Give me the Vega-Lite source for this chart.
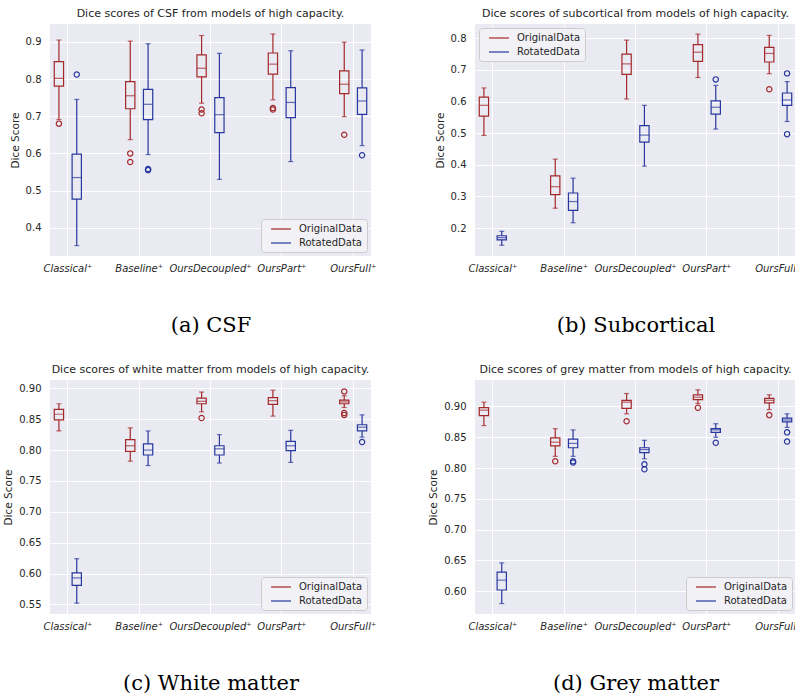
{
  "$schema": "https://vega.github.io/schema/vega-lite/v6.json",
  "padding": {"left": 3, "top": 8, "right": 0, "bottom": 0},
  "background": "white",
  "datasets": {
    "boxes": [
      {"tissue": "CSF", "model": "Classical⁺", "series": "OriginalData", "lower": 0.691, "q1": 0.781, "median": 0.802, "q3": 0.847, "upper": 0.905},
      {"tissue": "CSF", "model": "Classical⁺", "series": "RotatedData", "lower": 0.352, "q1": 0.477, "median": 0.535, "q3": 0.598, "upper": 0.745},
      {"tissue": "CSF", "model": "Baseline⁺", "series": "OriginalData", "lower": 0.637, "q1": 0.720, "median": 0.755, "q3": 0.793, "upper": 0.902},
      {"tissue": "CSF", "model": "Baseline⁺", "series": "RotatedData", "lower": 0.597, "q1": 0.691, "median": 0.732, "q3": 0.772, "upper": 0.895},
      {"tissue": "CSF", "model": "OursDecoupled⁺", "series": "OriginalData", "lower": 0.735, "q1": 0.806, "median": 0.829, "q3": 0.865, "upper": 0.917},
      {"tissue": "CSF", "model": "OursDecoupled⁺", "series": "RotatedData", "lower": 0.530, "q1": 0.656, "median": 0.704, "q3": 0.750, "upper": 0.869},
      {"tissue": "CSF", "model": "OursPart⁺", "series": "OriginalData", "lower": 0.744, "q1": 0.813, "median": 0.840, "q3": 0.870, "upper": 0.921},
      {"tissue": "CSF", "model": "OursPart⁺", "series": "RotatedData", "lower": 0.578, "q1": 0.696, "median": 0.737, "q3": 0.777, "upper": 0.876},
      {"tissue": "CSF", "model": "OursFull⁺", "series": "OriginalData", "lower": 0.699, "q1": 0.761, "median": 0.786, "q3": 0.822, "upper": 0.899},
      {"tissue": "CSF", "model": "OursFull⁺", "series": "RotatedData", "lower": 0.621, "q1": 0.705, "median": 0.741, "q3": 0.776, "upper": 0.878},

      {"tissue": "Subcortical", "model": "Classical⁺", "series": "OriginalData", "lower": 0.493, "q1": 0.554, "median": 0.588, "q3": 0.614, "upper": 0.643},
      {"tissue": "Subcortical", "model": "Classical⁺", "series": "RotatedData", "lower": 0.146, "q1": 0.163, "median": 0.170, "q3": 0.176, "upper": 0.190},
      {"tissue": "Subcortical", "model": "Baseline⁺", "series": "OriginalData", "lower": 0.263, "q1": 0.306, "median": 0.331, "q3": 0.365, "upper": 0.418},
      {"tissue": "Subcortical", "model": "Baseline⁺", "series": "RotatedData", "lower": 0.217, "q1": 0.256, "median": 0.284, "q3": 0.311, "upper": 0.358},
      {"tissue": "Subcortical", "model": "OursDecoupled⁺", "series": "OriginalData", "lower": 0.608, "q1": 0.686, "median": 0.719, "q3": 0.750, "upper": 0.794},
      {"tissue": "Subcortical", "model": "OursDecoupled⁺", "series": "RotatedData", "lower": 0.396, "q1": 0.472, "median": 0.494, "q3": 0.524, "upper": 0.588},
      {"tissue": "Subcortical", "model": "OursPart⁺", "series": "OriginalData", "lower": 0.676, "q1": 0.727, "median": 0.756, "q3": 0.780, "upper": 0.813},
      {"tissue": "Subcortical", "model": "OursPart⁺", "series": "RotatedData", "lower": 0.513, "q1": 0.560, "median": 0.582, "q3": 0.602, "upper": 0.651},
      {"tissue": "Subcortical", "model": "OursFull⁺", "series": "OriginalData", "lower": 0.688, "q1": 0.725, "median": 0.752, "q3": 0.771, "upper": 0.809},
      {"tissue": "Subcortical", "model": "OursFull⁺", "series": "RotatedData", "lower": 0.537, "q1": 0.588, "median": 0.605, "q3": 0.627, "upper": 0.663},

      {"tissue": "White matter", "model": "Classical⁺", "series": "OriginalData", "lower": 0.831, "q1": 0.849, "median": 0.858, "q3": 0.866, "upper": 0.875},
      {"tissue": "White matter", "model": "Classical⁺", "series": "RotatedData", "lower": 0.552, "q1": 0.581, "median": 0.593, "q3": 0.601, "upper": 0.624},
      {"tissue": "White matter", "model": "Baseline⁺", "series": "OriginalData", "lower": 0.782, "q1": 0.798, "median": 0.807, "q3": 0.817, "upper": 0.836},
      {"tissue": "White matter", "model": "Baseline⁺", "series": "RotatedData", "lower": 0.775, "q1": 0.792, "median": 0.800, "q3": 0.810, "upper": 0.831},
      {"tissue": "White matter", "model": "OursDecoupled⁺", "series": "OriginalData", "lower": 0.862, "q1": 0.875, "median": 0.879, "q3": 0.884, "upper": 0.894},
      {"tissue": "White matter", "model": "OursDecoupled⁺", "series": "RotatedData", "lower": 0.779, "q1": 0.792, "median": 0.802, "q3": 0.807, "upper": 0.825},
      {"tissue": "White matter", "model": "OursPart⁺", "series": "OriginalData", "lower": 0.855, "q1": 0.874, "median": 0.880, "q3": 0.885, "upper": 0.897},
      {"tissue": "White matter", "model": "OursPart⁺", "series": "RotatedData", "lower": 0.780, "q1": 0.799, "median": 0.807, "q3": 0.814, "upper": 0.832},
      {"tissue": "White matter", "model": "OursFull⁺", "series": "OriginalData", "lower": 0.869, "q1": 0.875, "median": 0.878, "q3": 0.881, "upper": 0.888},
      {"tissue": "White matter", "model": "OursFull⁺", "series": "RotatedData", "lower": 0.821, "q1": 0.831, "median": 0.837, "q3": 0.841, "upper": 0.857},

      {"tissue": "Grey matter", "model": "Classical⁺", "series": "OriginalData", "lower": 0.869, "q1": 0.885, "median": 0.894, "q3": 0.898, "upper": 0.907},
      {"tissue": "Grey matter", "model": "Classical⁺", "series": "RotatedData", "lower": 0.580, "q1": 0.602, "median": 0.618, "q3": 0.631, "upper": 0.646},
      {"tissue": "Grey matter", "model": "Baseline⁺", "series": "OriginalData", "lower": 0.819, "q1": 0.836, "median": 0.842, "q3": 0.849, "upper": 0.864},
      {"tissue": "Grey matter", "model": "Baseline⁺", "series": "RotatedData", "lower": 0.819, "q1": 0.833, "median": 0.840, "q3": 0.847, "upper": 0.862},
      {"tissue": "Grey matter", "model": "OursDecoupled⁺", "series": "OriginalData", "lower": 0.888, "q1": 0.897, "median": 0.907, "q3": 0.910, "upper": 0.921},
      {"tissue": "Grey matter", "model": "OursDecoupled⁺", "series": "RotatedData", "lower": 0.815, "q1": 0.825, "median": 0.830, "q3": 0.833, "upper": 0.845},
      {"tissue": "Grey matter", "model": "OursPart⁺", "series": "OriginalData", "lower": 0.905, "q1": 0.911, "median": 0.915, "q3": 0.919, "upper": 0.927},
      {"tissue": "Grey matter", "model": "OursPart⁺", "series": "RotatedData", "lower": 0.850, "q1": 0.858, "median": 0.862, "q3": 0.864, "upper": 0.872},
      {"tissue": "Grey matter", "model": "OursFull⁺", "series": "OriginalData", "lower": 0.895, "q1": 0.906, "median": 0.910, "q3": 0.913, "upper": 0.919},
      {"tissue": "Grey matter", "model": "OursFull⁺", "series": "RotatedData", "lower": 0.866, "q1": 0.875, "median": 0.878, "q3": 0.881, "upper": 0.888}
    ],
    "outliers": [
      {"tissue": "CSF", "model": "Classical⁺", "series": "OriginalData", "value": 0.680},
      {"tissue": "CSF", "model": "Classical⁺", "series": "RotatedData", "value": 0.812},
      {"tissue": "CSF", "model": "Baseline⁺", "series": "OriginalData", "value": 0.600},
      {"tissue": "CSF", "model": "Baseline⁺", "series": "OriginalData", "value": 0.577},
      {"tissue": "CSF", "model": "Baseline⁺", "series": "RotatedData", "value": 0.555},
      {"tissue": "CSF", "model": "Baseline⁺", "series": "RotatedData", "value": 0.558},
      {"tissue": "CSF", "model": "OursDecoupled⁺", "series": "OriginalData", "value": 0.718},
      {"tissue": "CSF", "model": "OursDecoupled⁺", "series": "OriginalData", "value": 0.708},
      {"tissue": "CSF", "model": "OursPart⁺", "series": "OriginalData", "value": 0.722},
      {"tissue": "CSF", "model": "OursPart⁺", "series": "OriginalData", "value": 0.718},
      {"tissue": "CSF", "model": "OursFull⁺", "series": "OriginalData", "value": 0.650},
      {"tissue": "CSF", "model": "OursFull⁺", "series": "RotatedData", "value": 0.595},
      {"tissue": "Subcortical", "model": "OursPart⁺", "series": "RotatedData", "value": 0.670},
      {"tissue": "Subcortical", "model": "OursFull⁺", "series": "OriginalData", "value": 0.639},
      {"tissue": "Subcortical", "model": "OursFull⁺", "series": "RotatedData", "value": 0.689},
      {"tissue": "Subcortical", "model": "OursFull⁺", "series": "RotatedData", "value": 0.497},
      {"tissue": "White matter", "model": "OursDecoupled⁺", "series": "OriginalData", "value": 0.852},
      {"tissue": "White matter", "model": "OursFull⁺", "series": "OriginalData", "value": 0.895},
      {"tissue": "White matter", "model": "OursFull⁺", "series": "OriginalData", "value": 0.860},
      {"tissue": "White matter", "model": "OursFull⁺", "series": "OriginalData", "value": 0.857},
      {"tissue": "White matter", "model": "OursFull⁺", "series": "RotatedData", "value": 0.813},
      {"tissue": "Grey matter", "model": "Baseline⁺", "series": "OriginalData", "value": 0.811},
      {"tissue": "Grey matter", "model": "Baseline⁺", "series": "RotatedData", "value": 0.811},
      {"tissue": "Grey matter", "model": "Baseline⁺", "series": "RotatedData", "value": 0.809},
      {"tissue": "Grey matter", "model": "OursDecoupled⁺", "series": "OriginalData", "value": 0.876},
      {"tissue": "Grey matter", "model": "OursDecoupled⁺", "series": "RotatedData", "value": 0.806},
      {"tissue": "Grey matter", "model": "OursDecoupled⁺", "series": "RotatedData", "value": 0.798},
      {"tissue": "Grey matter", "model": "OursPart⁺", "series": "OriginalData", "value": 0.898},
      {"tissue": "Grey matter", "model": "OursPart⁺", "series": "RotatedData", "value": 0.841},
      {"tissue": "Grey matter", "model": "OursFull⁺", "series": "OriginalData", "value": 0.886},
      {"tissue": "Grey matter", "model": "OursFull⁺", "series": "RotatedData", "value": 0.858},
      {"tissue": "Grey matter", "model": "OursFull⁺", "series": "RotatedData", "value": 0.843}
    ]
  },
  "columns": 2,
  "spacing": {"row": 29, "column": 52},
  "resolve": {"scale": {"x": "independent", "y": "independent", "xOffset": "independent", "color": "shared"}, "legend": {"color": "independent"}},
  "concat": [
    {
      "width": 321, "height": 232,
      "title": "Dice scores of CSF from models of high capacity.",
      "encoding": {
        "x": {"field": "model", "type": "nominal", "scale": {"domain": ["Classical⁺", "Baseline⁺", "OursDecoupled⁺", "OursPart⁺", "OursFull⁺"], "paddingInner": 0.5, "paddingOuter": 0}, "axis": {"title": "(a) CSF"}},
        "xOffset": {"field": "series", "type": "nominal", "scale": {"domain": ["OriginalData", "RotatedData"], "paddingInner": 0.48, "paddingOuter": 0.24}},
        "color": {"field": "series", "type": "nominal", "scale": {"domain": ["OriginalData", "RotatedData"], "range": ["#A3282A", "#28379E"]}, "legend": {"title": null, "orient": "bottom-right"}}
      },
      "layer": [
        {
          "data": {"name": "boxes"},
          "transform": [{"filter": "datum.tissue === 'CSF'"}],
          "layer": [
            {"mark": {"type": "rule"}, "encoding": {"y": {"field": "lower", "type": "quantitative", "title": "Dice Score", "scale": {"domain": [0.324, 0.948], "nice": false, "zero": false}, "axis": {"values": [0.4, 0.5, 0.6, 0.7, 0.8, 0.9], "format": ".1f", "labelOverlap": false}}, "y2": {"field": "q1"}}},
            {"mark": {"type": "rule"}, "encoding": {"y": {"field": "q3", "type": "quantitative", "title": "Dice Score", "axis": {"values": [0.4, 0.5, 0.6, 0.7, 0.8, 0.9], "format": ".1f", "labelOverlap": false}}, "y2": {"field": "upper"}}},
            {"mark": {"type": "bar", "filled": false}, "encoding": {"y": {"field": "q1", "type": "quantitative", "title": "Dice Score", "axis": {"values": [0.4, 0.5, 0.6, 0.7, 0.8, 0.9], "format": ".1f", "labelOverlap": false}}, "y2": {"field": "q3"}}},
            {"mark": {"type": "tick", "size": 9.5}, "encoding": {"y": {"field": "median", "type": "quantitative", "title": "Dice Score", "axis": {"values": [0.4, 0.5, 0.6, 0.7, 0.8, 0.9], "format": ".1f", "labelOverlap": false}}}},
            {"mark": {"type": "tick", "size": 5}, "encoding": {"y": {"field": "lower", "type": "quantitative", "title": "Dice Score", "axis": {"values": [0.4, 0.5, 0.6, 0.7, 0.8, 0.9], "format": ".1f", "labelOverlap": false}}}},
            {"mark": {"type": "tick", "size": 5}, "encoding": {"y": {"field": "upper", "type": "quantitative", "title": "Dice Score", "axis": {"values": [0.4, 0.5, 0.6, 0.7, 0.8, 0.9], "format": ".1f", "labelOverlap": false}}}}
          ]
        },
        {
          "data": {"name": "outliers"},
          "transform": [{"filter": "datum.tissue === 'CSF'"}],
          "mark": {"type": "point", "filled": false, "size": 28},
          "encoding": {"y": {"field": "value", "type": "quantitative", "title": "Dice Score", "axis": {"values": [0.4, 0.5, 0.6, 0.7, 0.8, 0.9], "format": ".1f", "labelOverlap": false}}}
        }
      ]
    },
    {
      "width": 321, "height": 232,
      "title": "Dice scores of subcortical from models of high capacity.",
      "encoding": {
        "x": {"field": "model", "type": "nominal", "scale": {"domain": ["Classical⁺", "Baseline⁺", "OursDecoupled⁺", "OursPart⁺", "OursFull⁺"], "paddingInner": 0.5, "paddingOuter": 0}, "axis": {"title": "(b) Subcortical"}},
        "xOffset": {"field": "series", "type": "nominal", "scale": {"domain": ["OriginalData", "RotatedData"], "paddingInner": 0.48, "paddingOuter": 0.24}},
        "color": {"field": "series", "type": "nominal", "scale": {"domain": ["OriginalData", "RotatedData"], "range": ["#A3282A", "#28379E"]}, "legend": {"title": null, "orient": "top-left"}}
      },
      "layer": [
        {
          "data": {"name": "boxes"},
          "transform": [{"filter": "datum.tissue === 'Subcortical'"}],
          "layer": [
            {"mark": {"type": "rule"}, "encoding": {"y": {"field": "lower", "type": "quantitative", "title": "Dice Score", "scale": {"domain": [0.112, 0.845], "nice": false, "zero": false}, "axis": {"values": [0.2, 0.3, 0.4, 0.5, 0.6, 0.7, 0.8], "format": ".1f", "labelOverlap": false}}, "y2": {"field": "q1"}}},
            {"mark": {"type": "rule"}, "encoding": {"y": {"field": "q3", "type": "quantitative", "title": "Dice Score", "axis": {"values": [0.2, 0.3, 0.4, 0.5, 0.6, 0.7, 0.8], "format": ".1f", "labelOverlap": false}}, "y2": {"field": "upper"}}},
            {"mark": {"type": "bar", "filled": false}, "encoding": {"y": {"field": "q1", "type": "quantitative", "title": "Dice Score", "axis": {"values": [0.2, 0.3, 0.4, 0.5, 0.6, 0.7, 0.8], "format": ".1f", "labelOverlap": false}}, "y2": {"field": "q3"}}},
            {"mark": {"type": "tick", "size": 9.5}, "encoding": {"y": {"field": "median", "type": "quantitative", "title": "Dice Score", "axis": {"values": [0.2, 0.3, 0.4, 0.5, 0.6, 0.7, 0.8], "format": ".1f", "labelOverlap": false}}}},
            {"mark": {"type": "tick", "size": 5}, "encoding": {"y": {"field": "lower", "type": "quantitative", "title": "Dice Score", "axis": {"values": [0.2, 0.3, 0.4, 0.5, 0.6, 0.7, 0.8], "format": ".1f", "labelOverlap": false}}}},
            {"mark": {"type": "tick", "size": 5}, "encoding": {"y": {"field": "upper", "type": "quantitative", "title": "Dice Score", "axis": {"values": [0.2, 0.3, 0.4, 0.5, 0.6, 0.7, 0.8], "format": ".1f", "labelOverlap": false}}}}
          ]
        },
        {
          "data": {"name": "outliers"},
          "transform": [{"filter": "datum.tissue === 'Subcortical'"}],
          "mark": {"type": "point", "filled": false, "size": 28},
          "encoding": {"y": {"field": "value", "type": "quantitative", "title": "Dice Score", "axis": {"values": [0.2, 0.3, 0.4, 0.5, 0.6, 0.7, 0.8], "format": ".1f", "labelOverlap": false}}}
        }
      ]
    },
    {
      "width": 321, "height": 234,
      "title": "Dice scores of white matter from models of high capacity.",
      "encoding": {
        "x": {"field": "model", "type": "nominal", "scale": {"domain": ["Classical⁺", "Baseline⁺", "OursDecoupled⁺", "OursPart⁺", "OursFull⁺"], "paddingInner": 0.5, "paddingOuter": 0}, "axis": {"title": "(c) White matter"}},
        "xOffset": {"field": "series", "type": "nominal", "scale": {"domain": ["OriginalData", "RotatedData"], "paddingInner": 0.48, "paddingOuter": 0.24}},
        "color": {"field": "series", "type": "nominal", "scale": {"domain": ["OriginalData", "RotatedData"], "range": ["#A3282A", "#28379E"]}, "legend": {"title": null, "orient": "bottom-right"}}
      },
      "layer": [
        {
          "data": {"name": "boxes"},
          "transform": [{"filter": "datum.tissue === 'White matter'"}],
          "layer": [
            {"mark": {"type": "rule"}, "encoding": {"y": {"field": "lower", "type": "quantitative", "title": "Dice Score", "scale": {"domain": [0.5345, 0.9135], "nice": false, "zero": false}, "axis": {"values": [0.55, 0.6, 0.65, 0.7, 0.75, 0.8, 0.85, 0.9], "format": ".2f", "labelOverlap": false}}, "y2": {"field": "q1"}}},
            {"mark": {"type": "rule"}, "encoding": {"y": {"field": "q3", "type": "quantitative", "title": "Dice Score", "axis": {"values": [0.55, 0.6, 0.65, 0.7, 0.75, 0.8, 0.85, 0.9], "format": ".2f", "labelOverlap": false}}, "y2": {"field": "upper"}}},
            {"mark": {"type": "bar", "filled": false}, "encoding": {"y": {"field": "q1", "type": "quantitative", "title": "Dice Score", "axis": {"values": [0.55, 0.6, 0.65, 0.7, 0.75, 0.8, 0.85, 0.9], "format": ".2f", "labelOverlap": false}}, "y2": {"field": "q3"}}},
            {"mark": {"type": "tick", "size": 9.5}, "encoding": {"y": {"field": "median", "type": "quantitative", "title": "Dice Score", "axis": {"values": [0.55, 0.6, 0.65, 0.7, 0.75, 0.8, 0.85, 0.9], "format": ".2f", "labelOverlap": false}}}},
            {"mark": {"type": "tick", "size": 5}, "encoding": {"y": {"field": "lower", "type": "quantitative", "title": "Dice Score", "axis": {"values": [0.55, 0.6, 0.65, 0.7, 0.75, 0.8, 0.85, 0.9], "format": ".2f", "labelOverlap": false}}}},
            {"mark": {"type": "tick", "size": 5}, "encoding": {"y": {"field": "upper", "type": "quantitative", "title": "Dice Score", "axis": {"values": [0.55, 0.6, 0.65, 0.7, 0.75, 0.8, 0.85, 0.9], "format": ".2f", "labelOverlap": false}}}}
          ]
        },
        {
          "data": {"name": "outliers"},
          "transform": [{"filter": "datum.tissue === 'White matter'"}],
          "mark": {"type": "point", "filled": false, "size": 28},
          "encoding": {"y": {"field": "value", "type": "quantitative", "title": "Dice Score", "axis": {"values": [0.55, 0.6, 0.65, 0.7, 0.75, 0.8, 0.85, 0.9], "format": ".2f", "labelOverlap": false}}}
        }
      ]
    },
    {
      "width": 321, "height": 234,
      "title": "Dice scores of grey matter from models of high capacity.",
      "encoding": {
        "x": {"field": "model", "type": "nominal", "scale": {"domain": ["Classical⁺", "Baseline⁺", "OursDecoupled⁺", "OursPart⁺", "OursFull⁺"], "paddingInner": 0.5, "paddingOuter": 0}, "axis": {"title": "(d) Grey matter"}},
        "xOffset": {"field": "series", "type": "nominal", "scale": {"domain": ["OriginalData", "RotatedData"], "paddingInner": 0.48, "paddingOuter": 0.24}},
        "color": {"field": "series", "type": "nominal", "scale": {"domain": ["OriginalData", "RotatedData"], "range": ["#A3282A", "#28379E"]}, "legend": {"title": null, "orient": "bottom-right"}}
      },
      "layer": [
        {
          "data": {"name": "boxes"},
          "transform": [{"filter": "datum.tissue === 'Grey matter'"}],
          "layer": [
            {"mark": {"type": "rule"}, "encoding": {"y": {"field": "lower", "type": "quantitative", "title": "Dice Score", "scale": {"domain": [0.563, 0.943], "nice": false, "zero": false}, "axis": {"values": [0.6, 0.65, 0.7, 0.75, 0.8, 0.85, 0.9], "format": ".2f", "labelOverlap": false}}, "y2": {"field": "q1"}}},
            {"mark": {"type": "rule"}, "encoding": {"y": {"field": "q3", "type": "quantitative", "title": "Dice Score", "axis": {"values": [0.6, 0.65, 0.7, 0.75, 0.8, 0.85, 0.9], "format": ".2f", "labelOverlap": false}}, "y2": {"field": "upper"}}},
            {"mark": {"type": "bar", "filled": false}, "encoding": {"y": {"field": "q1", "type": "quantitative", "title": "Dice Score", "axis": {"values": [0.6, 0.65, 0.7, 0.75, 0.8, 0.85, 0.9], "format": ".2f", "labelOverlap": false}}, "y2": {"field": "q3"}}},
            {"mark": {"type": "tick", "size": 9.5}, "encoding": {"y": {"field": "median", "type": "quantitative", "title": "Dice Score", "axis": {"values": [0.6, 0.65, 0.7, 0.75, 0.8, 0.85, 0.9], "format": ".2f", "labelOverlap": false}}}},
            {"mark": {"type": "tick", "size": 5}, "encoding": {"y": {"field": "lower", "type": "quantitative", "title": "Dice Score", "axis": {"values": [0.6, 0.65, 0.7, 0.75, 0.8, 0.85, 0.9], "format": ".2f", "labelOverlap": false}}}},
            {"mark": {"type": "tick", "size": 5}, "encoding": {"y": {"field": "upper", "type": "quantitative", "title": "Dice Score", "axis": {"values": [0.6, 0.65, 0.7, 0.75, 0.8, 0.85, 0.9], "format": ".2f", "labelOverlap": false}}}}
          ]
        },
        {
          "data": {"name": "outliers"},
          "transform": [{"filter": "datum.tissue === 'Grey matter'"}],
          "mark": {"type": "point", "filled": false, "size": 28},
          "encoding": {"y": {"field": "value", "type": "quantitative", "title": "Dice Score", "axis": {"values": [0.6, 0.65, 0.7, 0.75, 0.8, 0.85, 0.9], "format": ".2f", "labelOverlap": false}}}
        }
      ]
    }
  ],
  "config": {
    "font": "DejaVu Sans",
    "view": {"fill": "#EAEAF2", "stroke": null},
    "rule": {"strokeWidth": 1.2},
    "bar": {"strokeWidth": 1.2},
    "tick": {"thickness": 1.2},
    "point": {"strokeWidth": 1.2, "opacity": 1},
    "axis": {"domain": false, "ticks": false, "grid": true, "gridColor": "#FFFFFF", "gridWidth": 1, "gridOpacity": 1, "labelFont": "DejaVu Sans", "labelFontSize": 10, "labelColor": "#262626", "labelOverlap": false, "titleFont": "DejaVu Sans", "titleFontSize": 10.5, "titleColor": "#262626", "titleFontWeight": "normal"},
    "axisX": {"labelFontStyle": "italic", "labelAngle": 0, "labelPadding": 7, "titleFont": "DejaVu Serif", "titleFontSize": 21, "titleColor": "#000000", "titlePadding": 41},
    "axisY": {"labelPadding": 9, "titlePadding": 5},
    "title": {"font": "DejaVu Sans", "fontSize": 11, "fontWeight": "normal", "color": "#262626", "offset": 5, "frame": "group"},
    "legend": {"symbolType": "M-2,0H2", "symbolSize": 100, "symbolStrokeWidth": 1.5, "symbolOffset": 10, "labelFont": "DejaVu Sans", "labelFontSize": 10, "labelColor": "#262626", "labelOffset": 12, "fillColor": "#F2F2F6", "strokeColor": "#CCCCCC", "cornerRadius": 3, "padding": 4, "rowPadding": 3, "offset": 4}
  }
}
